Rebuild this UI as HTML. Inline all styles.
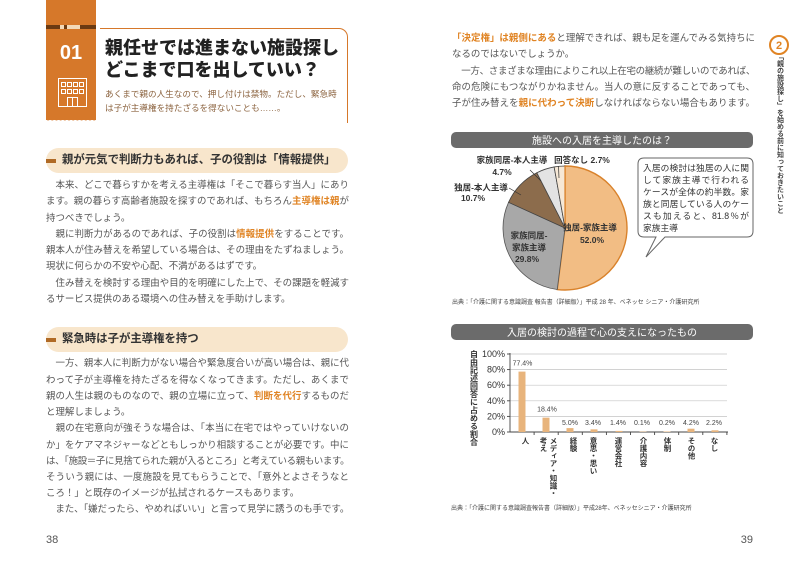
<!DOCTYPE html>
<html><head><meta charset="utf-8">
<style>
*{margin:0;padding:0;box-sizing:border-box}
html,body{width:800px;height:567px;background:#fff;overflow:hidden}
body{position:relative;font-family:"Liberation Sans","Noto Sans CJK JP",sans-serif;color:#555}
.a{position:absolute}
.ln{position:absolute;width:303px;height:16px;line-height:16px;font-size:9.45px;text-align:justify;text-align-last:justify;color:#555;white-space:nowrap;overflow:visible}
.ln.s{text-align-last:left}
.hl{color:#e08424;font-weight:700}
.hd{position:absolute;left:46px;width:302px;height:25px;border-radius:12.5px;background:#f8e6cc}
.hd i{position:absolute;left:0;top:11px;width:10px;height:4px;background:#b06a25}
.hd b{position:absolute;left:16px;top:0;line-height:25px;font-size:11.4px;color:#333;font-weight:700;white-space:nowrap}
.vt{position:absolute;writing-mode:vertical-rl;font-weight:700;color:#333;white-space:nowrap}
.bl{position:absolute;left:643px;width:106px;height:12px;line-height:12px;font-size:8.75px;color:#333;text-align:justify;text-align-last:justify;white-space:nowrap}
.bl.s{text-align-last:left}
</style></head><body>

<!-- Left banner -->
<div class="a" style="left:46px;top:0;width:50px;height:120px;background:#d6782a"></div>
<div class="a" style="left:46px;top:118px;width:50px;height:5px;background:radial-gradient(circle at 50% 0,#d6782a 2.2px,transparent 2.6px) 0 0/4.2px 5px repeat-x"></div>
<div class="a" style="left:46px;top:25px;width:50px;height:3.5px;background:#6b3a12"></div>
<div class="a" style="left:60px;top:25px;width:4px;height:3.5px;background:#f3d9b8"></div>
<div class="a" style="left:67px;top:25px;width:13px;height:3.5px;background:#f3d9b8"></div>
<div class="a" style="left:46px;top:41px;width:50px;text-align:center;font:700 20px/24px 'Liberation Sans',sans-serif;color:#fff">01</div>
<svg class="a" style="left:0;top:0" width="120" height="130">
<g fill="none" stroke="#fff" stroke-width="1">
<rect x="58.5" y="78.5" width="28" height="28"/>
<rect x="61.5" y="82.5" width="4" height="4"/><rect x="67.5" y="82.5" width="4" height="4"/><rect x="73.5" y="82.5" width="4" height="4"/><rect x="79.5" y="82.5" width="4" height="4"/>
<rect x="61.5" y="89.5" width="4" height="4"/><rect x="67.5" y="89.5" width="4" height="4"/><rect x="73.5" y="89.5" width="4" height="4"/><rect x="79.5" y="89.5" width="4" height="4"/>
<rect x="67.5" y="97.5" width="10" height="9"/><line x1="72.5" y1="97.5" x2="72.5" y2="106.5"/>
</g></svg>

<!-- Title box -->
<div class="a" style="left:100px;top:28px;width:247.5px;height:95px;border-top:1.5px solid #d6782a;border-right:1.5px solid #d6782a;border-top-right-radius:9px"></div>
<div class="a" style="left:105px;top:37px;font-size:18px;line-height:22px;font-weight:900;color:#222;white-space:nowrap">親任せでは進まない施設探し<br>どこまで口を出していい？</div>
<div class="a" style="left:105px;top:87px;font-size:8.6px;line-height:14px;color:#8c6440;white-space:nowrap">あくまで親の人生なので、押し付けは禁物。ただし、緊急時<br>は子が主導権を持たざるを得ないことも……。</div>

<!-- Heading 1 -->
<div class="hd" style="top:148px"><i></i><b>親が元気で判断力もあれば、子の役割は「情報提供」</b></div>
<div class="ln" style="left:46px;top:177.5px">　本来、どこで暮らすかを考える主導権は「そこで暮らす当人」にあり</div>
<div class="ln" style="left:46px;top:194px">ます。親の暮らす高齢者施設を探すのであれば、もちろん<span class="hl">主導権は親</span>が</div>
<div class="ln s" style="left:46px;top:210.5px">持つべきでしょう。</div>
<div class="ln" style="left:46px;top:227px">　親に判断力があるのであれば、子の役割は<span class="hl">情報提供</span>をすることです。</div>
<div class="ln" style="left:46px;top:243px">親本人が住み替えを希望している場合は、その理由をたずねましょう。</div>
<div class="ln s" style="left:46px;top:259px">現状に何らかの不安や心配、不満があるはずです。</div>
<div class="ln" style="left:46px;top:275.5px">　住み替えを検討する理由や目的を明確にした上で、その課題を軽減す</div>
<div class="ln s" style="left:46px;top:291.5px">るサービス提供のある環境への住み替えを手助けします。</div>

<!-- Heading 2 -->
<div class="hd" style="top:327px"><i></i><b>緊急時は子が主導権を持つ</b></div>
<div class="ln" style="left:46px;top:355.5px">　一方、親本人に判断力がない場合や緊急度合いが高い場合は、親に代</div>
<div class="ln" style="left:46px;top:372.5px">わって子が主導権を持たざるを得なくなってきます。ただし、あくまで</div>
<div class="ln" style="left:46px;top:389px">親の人生は親のものなので、親の立場に立って、<span class="hl">判断を代行</span>するものだ</div>
<div class="ln s" style="left:46px;top:405px">と理解しましょう。</div>
<div class="ln" style="left:46px;top:421px">　親の在宅意向が強そうな場合は、「本当に在宅ではやっていけないの</div>
<div class="ln" style="left:46px;top:438px">か」をケアマネジャーなどともしっかり相談することが必要です。中に</div>
<div class="ln" style="left:46px;top:454px;letter-spacing:-0.6px">は、「施設＝子に見捨てられた親が入るところ」と考えている親もいます。</div>
<div class="ln" style="left:46px;top:469.5px">そういう親には、一度施設を見てもらうことで、「意外とよさそうなと</div>
<div class="ln s" style="left:46px;top:485.5px">ころ！」と既存のイメージが払拭されるケースもあります。</div>
<div class="ln" style="left:46px;top:502px;letter-spacing:-0.3px">　また、「嫌だったら、やめればいい」と言って見学に誘うのも手です。</div>

<div class="a" style="left:46px;top:533px;font:11px/14px 'Liberation Sans',sans-serif;color:#555">38</div>
<div class="a" style="left:733px;top:533px;width:20px;text-align:right;font:11px/14px 'Liberation Sans',sans-serif;color:#555">39</div>

<!-- Right page text -->
<div class="ln" style="left:452px;top:31px"><span class="hl">「決定権」は親側にある</span>と理解できれば、親も足を運んでみる気持ちに</div>
<div class="ln s" style="left:452px;top:47px">なるのではないでしょうか。</div>
<div class="ln" style="left:452px;top:64px;letter-spacing:-0.3px">　一方、さまざまな理由によりこれ以上在宅の継続が難しいのであれば、</div>
<div class="ln" style="left:452px;top:80px">命の危険にもつながりかねません。当人の意に反することであっても、</div>
<div class="ln" style="left:452px;top:95.5px">子が住み替えを<span class="hl">親に代わって決断</span>しなければならない場合もあります。</div>

<!-- Right strip -->
<svg class="a" style="left:765px;top:33px" width="30" height="26"><circle cx="14" cy="12" r="9" fill="#fff" stroke="#e08424" stroke-width="2"/><text x="14" y="16" text-anchor="middle" font-family="Liberation Sans" font-weight="700" font-size="11" fill="#e08424">2</text></svg>
<div class="vt" style="left:775.5px;top:53px;width:9px;font-size:7px;line-height:9px;color:#444">「親の施設探し」を始める前に知っておきたいこと</div>

<!-- Charts SVG -->
<svg class="a" style="left:0;top:0" width="800" height="567" font-family="Liberation Sans, Noto Sans CJK JP, sans-serif">
<!-- Pie title -->
<rect x="451" y="132" width="302" height="16" rx="5" fill="#6b6b6b"/>
<text x="602" y="144" text-anchor="middle" font-size="10" fill="#fff">施設への入居を主導したのは？</text>
<!-- Pie -->
<path d="M565,228 L565,166 A62,62 0 1,1 557.23,289.51 Z" fill="#f2bd84" stroke="#d9822b" stroke-width="1.4"/>
<path d="M565,228 L557.23,289.51 A62,62 0 0,1 508.57,202.31 Z" fill="#a8a8a8" stroke="#555" stroke-width="0.8"/>
<path d="M565,228 L508.57,202.31 A62,62 0 0,1 536.85,172.76 Z" fill="#8c6c4c" stroke="#444" stroke-width="0.8"/>
<path d="M565,228 L536.85,172.76 A62,62 0 0,1 554.15,166.95 Z" fill="#e3e3e3" stroke="#444" stroke-width="0.8"/>
<path d="M565,228 L554.15,166.95 A62,62 0 0,1 565,166 Z" fill="#f6e8d6" stroke="#444" stroke-width="0.8"/>
<line x1="565" y1="166" x2="565" y2="228" stroke="#d9822b" stroke-width="1.2"/>
<g stroke="#333" stroke-width="0.7">
<line x1="530" y1="170" x2="541" y2="181"/>
<line x1="509" y1="188" x2="521" y2="195"/>
<line x1="558.5" y1="166" x2="559" y2="178"/>
</g>
<g font-size="8.5" font-weight="700" fill="#333" text-anchor="middle">
<text x="512" y="163">家族同居-本人主導</text>
<text x="502" y="175">4.7%</text>
<text x="481" y="190.5">独居-本人主導</text>
<text x="473" y="201">10.7%</text>
<text x="582" y="163">回答なし 2.7%</text>
<text x="590" y="230.5">独居-家族主導</text>
<text x="592" y="243">52.0%</text>
<text x="529" y="238.5">家族同居-</text>
<text x="529" y="250.5">家族主導</text>
<text x="527" y="262">29.8%</text>
</g>
<!-- Bubble -->
<path d="M644,158 H747 Q753,158 753,164 V231 Q753,237 747,237 H665 L646,257 L656,237 H644 Q638,237 638,231 V164 Q638,158 644,158 Z" fill="#fff" stroke="#666" stroke-width="1"/>
<text x="452" y="304" font-size="6" fill="#444">出典：「介護に関する意識調査 報告書（詳細版）」平成 28 年、ベネッセ シニア・介護研究所</text>

<!-- Bar title -->
<rect x="451" y="324" width="302" height="16" rx="5" fill="#6b6b6b"/>
<text x="602" y="336" text-anchor="middle" font-size="10" fill="#fff">入居の検討の過程で心の支えになったもの</text>
<!-- grid -->
<g stroke="#c4c4c4" stroke-width="0.7">
<line x1="510" y1="354" x2="727" y2="354"/>
<line x1="510" y1="369.6" x2="727" y2="369.6"/>
<line x1="510" y1="385.2" x2="727" y2="385.2"/>
<line x1="510" y1="400.8" x2="727" y2="400.8"/>
<line x1="510" y1="416.4" x2="727" y2="416.4"/>
</g>
<g stroke="#444" stroke-width="0.9">
<line x1="510" y1="353" x2="510" y2="432"/>
<line x1="510" y1="432" x2="728" y2="432"/>
<line x1="507" y1="354" x2="510" y2="354"/><line x1="507" y1="369.6" x2="510" y2="369.6"/><line x1="507" y1="385.2" x2="510" y2="385.2"/><line x1="507" y1="400.8" x2="510" y2="400.8"/><line x1="507" y1="416.4" x2="510" y2="416.4"/><line x1="507" y1="432" x2="510" y2="432"/>
<line x1="534.1" y1="432" x2="534.1" y2="435"/><line x1="558.2" y1="432" x2="558.2" y2="435"/><line x1="582.3" y1="432" x2="582.3" y2="435"/><line x1="606.4" y1="432" x2="606.4" y2="435"/><line x1="630.5" y1="432" x2="630.5" y2="435"/><line x1="654.6" y1="432" x2="654.6" y2="435"/><line x1="678.7" y1="432" x2="678.7" y2="435"/><line x1="702.8" y1="432" x2="702.8" y2="435"/><line x1="726.9" y1="432" x2="726.9" y2="435"/>
</g>
<g font-size="9" fill="#333" text-anchor="end">
<text x="505" y="357">100%</text>
<text x="505" y="372.6">80%</text>
<text x="505" y="388.2">60%</text>
<text x="505" y="403.8">40%</text>
<text x="505" y="419.4">20%</text>
<text x="505" y="435">0%</text>
</g>
<g fill="#e8b47c">
<rect x="518.5" y="371.6" width="7" height="60.4"/>
<rect x="542.5" y="417.65" width="7" height="14.35"/>
<rect x="566.5" y="428.1" width="7" height="3.9"/>
<rect x="590.5" y="429.35" width="7" height="2.65"/>
<rect x="615.5" y="430.9" width="7" height="1.1"/>
<rect x="639.5" y="431.6" width="7" height="0.4"/>
<rect x="663.5" y="431.5" width="7" height="0.5"/>
<rect x="687.5" y="428.7" width="7" height="3.3"/>
<rect x="711.5" y="430.3" width="7" height="1.7"/>
</g>
<g font-size="7" fill="#444" text-anchor="middle">
<text x="522.5" y="365.5">77.4%</text>
<text x="547" y="411.5">18.4%</text>
<text x="570" y="425">5.0%</text>
<text x="593" y="425">3.4%</text>
<text x="618" y="425">1.4%</text>
<text x="642" y="425">0.1%</text>
<text x="667" y="425">0.2%</text>
<text x="691" y="425">4.2%</text>
<text x="714" y="425">2.2%</text>
</g>
<text x="451" y="510" font-size="6" fill="#444">出典：「介護に関する意識調査報告書（詳細版）」平成28年、ベネッセシニア・介護研究所</text>
</svg>

<!-- Bubble text -->
<div class="bl" style="top:162px">入居の検討は独居の人に関</div>
<div class="bl" style="top:174px">して家族主導で行われる</div>
<div class="bl" style="top:186px">ケースが全体の約半数。家</div>
<div class="bl" style="top:197.5px">族と同居している人のケー</div>
<div class="bl" style="top:209.5px">スも加えると、81.8％が</div>
<div class="bl s" style="top:222px">家族主導</div>

<!-- Bar chart vertical labels -->
<div class="vt" style="left:468.5px;top:350px;width:10px;font-size:8px;line-height:10px">自由記述回答に占める割合</div>
<div class="vt" style="left:520px;top:437px;width:10px;font-size:7.5px;line-height:10px">人</div>
<div class="vt" style="left:538px;top:437px;width:20px;font-size:7.5px;line-height:10px">メディア・知識・<br>考え</div>
<div class="vt" style="left:568px;top:437px;width:10px;font-size:7.5px;line-height:10px">経験</div>
<div class="vt" style="left:588px;top:437px;width:10px;font-size:7.5px;line-height:10px">意思・思い</div>
<div class="vt" style="left:613px;top:437px;width:10px;font-size:7.5px;line-height:10px">運営会社</div>
<div class="vt" style="left:638px;top:437px;width:10px;font-size:7.5px;line-height:10px">介護内容</div>
<div class="vt" style="left:662px;top:437px;width:10px;font-size:7.5px;line-height:10px">体制</div>
<div class="vt" style="left:686px;top:437px;width:10px;font-size:7.5px;line-height:10px">その他</div>
<div class="vt" style="left:709px;top:437px;width:10px;font-size:7.5px;line-height:10px">なし</div>

</body></html>
